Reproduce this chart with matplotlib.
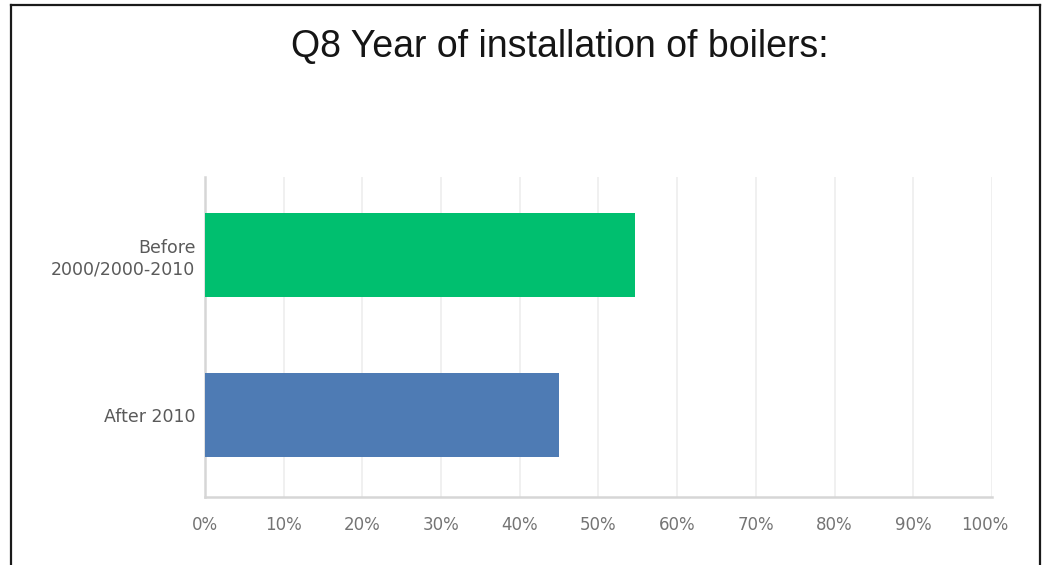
import matplotlib.pyplot as plt
from matplotlib.lines import Line2D
from matplotlib.transforms import ScaledTranslation

# survey answers, bottom to top
categories = ['After 2010', 'Before\n2000/2000-2010']
shares = [45.0, 54.7]
bar_colors = ['#4E7BB4', '#00BF6F']
ticks = list(range(0, 101, 10))
tick_labels = ['{}%'.format(t) for t in ticks]

fig = plt.figure(figsize=(10.49, 5.65), dpi=100)
ax = fig.add_axes([0.1954, 0.1204, 0.7502, 0.5664])

ax.barh(range(len(categories)), shares, height=0.525, color=bar_colors, zorder=3)

ax.set_xlim(0, 100)
ax.set_ylim(-0.512, 1.488)
ax.set_xticks(ticks)
ax.set_xticklabels(tick_labels, fontsize=12, color='#747474', family='DejaVu Sans')
ax.set_yticks(range(len(categories)))
ax.set_yticklabels(categories, fontsize=12.5, color='#5a5a5a', family='DejaVu Sans',
                   ha='right', linespacing=1.25)
ax.tick_params(axis='both', length=0)
ax.tick_params(axis='x', pad=14)
ax.tick_params(axis='y', pad=7)

# last tick label sits a little inside the right edge
last = ax.get_xticklabels()[-1]
last.set_transform(last.get_transform() + ScaledTranslation(-7 / 100, 0, fig.dpi_scale_trans))

ax.grid(axis='x', color='#eeeeee', linewidth=1.2, zorder=0)
for side in ['top', 'right']:
    ax.spines[side].set_visible(False)
for side in ['left', 'bottom']:
    ax.spines[side].set_color('#d6d6d6')
    ax.spines[side].set_linewidth(1.8)

fig.text(0.534, 1 - 57.3 / 565, 'Q8 Year of installation of boilers:', ha='center',
         va='baseline', fontsize=27, family='Liberation Sans', color='#151515')

# dark frame around the chart (open at the bottom)
fx0, fx1, fy1 = 11 / 1049, 1040 / 1049, 1 - 5 / 565
for xs, ys in [([fx0, fx0], [0, fy1]), ([fx1, fx1], [0, fy1]), ([fx0, fx1], [fy1, fy1])]:
    fig.add_artist(Line2D(xs, ys, transform=fig.transFigure, color='#1a1a1a', linewidth=1.6))

fig.savefig('out.png', dpi=100)
